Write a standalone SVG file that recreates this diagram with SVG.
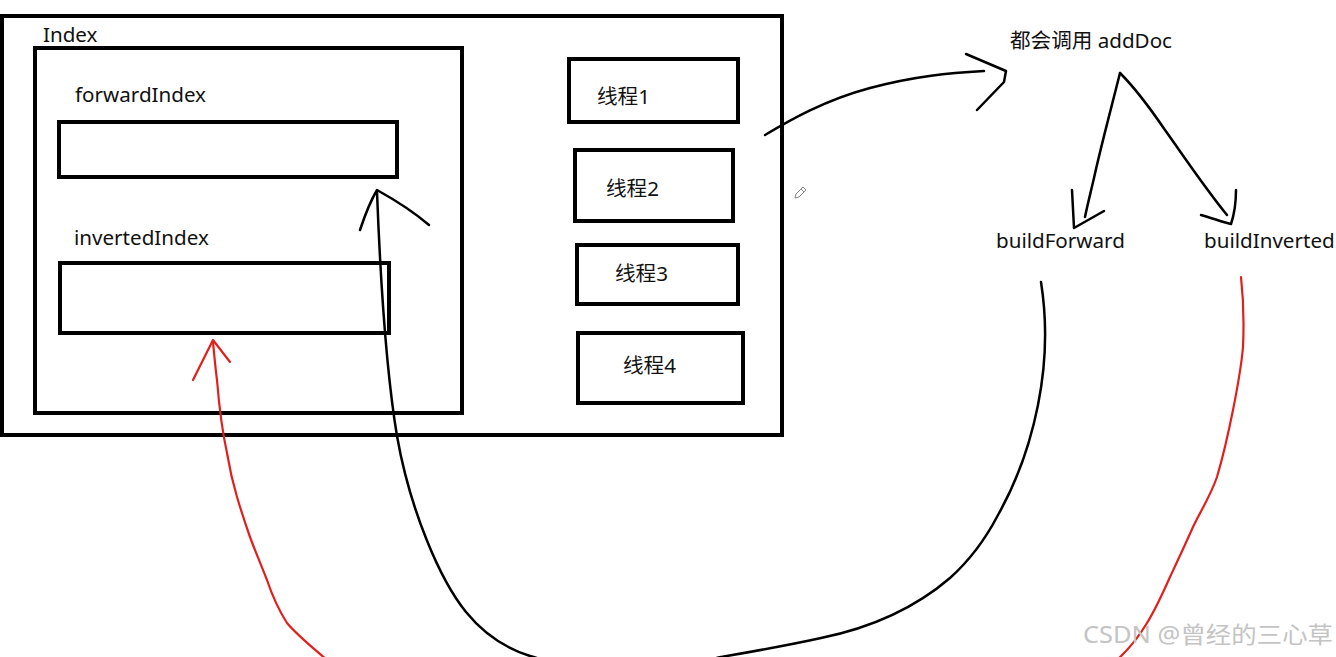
<svg xmlns="http://www.w3.org/2000/svg" width="1336" height="657" viewBox="0 0 1336 657">
<style>
.box{fill:none;stroke:#000;stroke-width:4}
.t{font-family:"Noto Sans","Noto Sans CJK SC",sans-serif;font-size:20.6px;fill:#111}
.ink{fill:none;stroke:#000;stroke-width:2.5;stroke-linecap:round;stroke-linejoin:round}
.red{fill:none;stroke:#e0201c;stroke-width:2.2;stroke-linecap:round;stroke-linejoin:round}
.wm{font-family:"Noto Sans","Noto Sans CJK SC",sans-serif;font-size:23px;fill:#c4c4c4}
</style>
<rect width="1336" height="657" fill="#fff"/>
<g id="index">
<rect class="box" x="2" y="16" width="780" height="419"/>
<text class="t" x="43" y="42">Index</text>
</g>
<g id="inner">
<rect class="box" x="35" y="48" width="427" height="365"/>
</g>
<g id="forwardIndex">
<text class="t" x="75" y="102">forwardIndex</text>
<rect class="box" x="59" y="122" width="338" height="55"/>
</g>
<g id="invertedIndex">
<text class="t" x="74" y="245">invertedIndex</text>
<rect class="box" x="60" y="263" width="329" height="70"/>
</g>
<g id="thread1">
<rect class="box" x="569" y="59" width="169" height="63"/>
<text class="t" x="597" y="104">线程1</text>
</g>
<g id="thread2">
<rect class="box" x="575" y="150" width="158" height="71"/>
<text class="t" x="606" y="196">线程2</text>
</g>
<g id="thread3">
<rect class="box" x="577" y="245" width="161" height="59"/>
<text class="t" x="615" y="281">线程3</text>
</g>
<g id="thread4">
<rect class="box" x="578" y="333" width="165" height="70"/>
<text class="t" x="623" y="373">线程4</text>
</g>
<g id="addDoc">
<text class="t" x="1010" y="48">都会调用 addDoc</text>
</g>
<g id="buildForward">
<text class="t" x="996" y="248">buildForward</text>
</g>
<g id="buildInverted">
<text class="t" x="1204" y="248">buildInverted</text>
</g>
<g id="connectors">
<path class="ink" d="M765,135 C790,120 825,100 870,88 S950,73 984,71"/>
<path class="ink" d="M966,54 L1006,71 L1004,82 L977,110"/>
<path class="ink" d="M1120,73 C1112,105 1100,150 1094,178 C1090,195 1087,207 1085,217"/>
<path class="ink" d="M1072,190 L1074,228 L1104,211"/>
<path class="ink" d="M1120,73 C1135,88 1150,108 1165,130 C1185,158 1205,188 1227,215"/>
<path class="ink" d="M1201,215 C1212,218 1222,222 1231,224 C1235,212 1236,200 1236,190"/>
<path class="ink" d="M1041,282 C1047,320 1047,360 1038,405 C1030,445 1015,485 998,515 C985,540 970,560 950,578 C915,608 870,628 821,638 C785,646 750,652 721,657 C660,672 580,672 530,656 C505,648 483,633 466,612 C440,580 410,510 397,436 C386,370 380,270 377,192"/>
<path class="ink" d="M360,230 C365,215 371,200 377,190 C395,200 415,213 429,225"/>
<path class="red" d="M1241,277 C1243,295 1244,325 1243,347 C1241,370 1236,395 1233,410 C1229,430 1222,460 1217,477 C1210,497 1200,512 1193,527 C1185,545 1177,562 1170,577 C1162,595 1155,610 1147,623 C1138,638 1128,650 1117,660"/>
<path class="red" d="M327,660 C313,648 297,635 287,623 C280,612 272,595 267,580 C260,562 254,548 250,537 C244,520 240,507 237,497 C232,480 229,465 227,453 C222,430 219,405 217,380 C215,365 214,352 213,342"/>
<path class="red" d="M193,380 L213,340 L230,362"/>
</g>
<g id="pencil" fill="none" stroke="#888" stroke-width="1">
<path d="M795,198 L796,194 L803,187 L806,190 L799,197 Z M801,189 L804,192"/>
</g>
<text class="wm" x="1083" y="643" textLength="250" lengthAdjust="spacingAndGlyphs">CSDN @曾经的三心草</text>
</svg>
